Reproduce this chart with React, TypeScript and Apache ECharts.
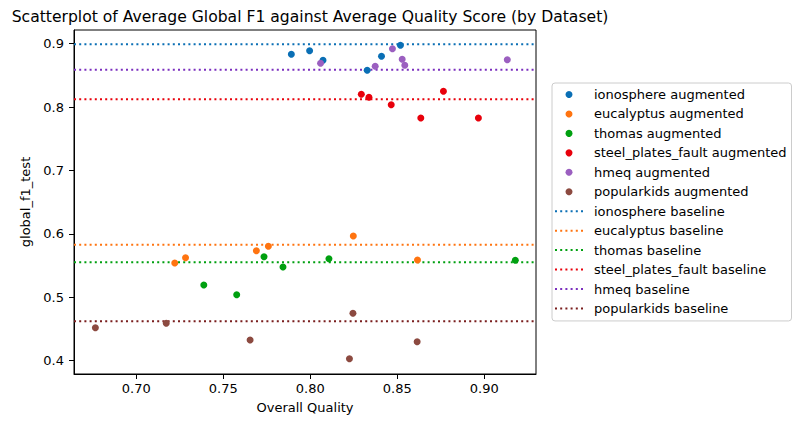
import React, { useEffect, useRef } from "react";
import * as echarts from "echarts";

const FONT = "DejaVu Sans";

const datasets = ["ionosphere", "eucalyptus", "thomas", "steel_plates_fault", "hmeq", "popularkids"];
const pointColors = ["#0a6fb5", "#ff7410", "#00a010", "#e8000b", "#9b5fc0", "#8c4a40"];
const lineColors = ["#0a6fb5", "#ff7410", "#00a010", "#e8000b", "#7b2fbe", "#7a1e1e"];

const ionosphereX = [0.7891, 0.7996, 0.8073, 0.8327, 0.8409, 0.8518];
const ionosphereY = [0.8833, 0.889, 0.8738, 0.858, 0.8801, 0.8975];
const eucalyptusX = [0.7221, 0.7283, 0.769, 0.7759, 0.8247, 0.8616];
const eucalyptusY = [0.5541, 0.5625, 0.5735, 0.5804, 0.5967, 0.5588];
const thomasX = [0.7388, 0.7577, 0.7734, 0.7843, 0.8107, 0.9178];
const thomasY = [0.5194, 0.5041, 0.564, 0.5478, 0.5609, 0.5584];
const steelX = [0.8293, 0.8337, 0.8465, 0.8635, 0.8765, 0.8966];
const steelY = [0.8202, 0.8155, 0.8038, 0.7828, 0.8249, 0.7828];
const hmeqX = [0.8059, 0.8373, 0.8472, 0.8528, 0.8543, 0.9132];
const hmeqY = [0.8691, 0.8644, 0.8921, 0.8754, 0.8659, 0.8748];
const popularX = [0.6765, 0.7172, 0.7654, 0.8245, 0.8614, 0.8225];
const popularY = [0.452, 0.459, 0.4327, 0.4748, 0.43, 0.4031];

const baselines = [0.899, 0.583, 0.5552, 0.8123, 0.859, 0.4621];

const xTicks = [0.7, 0.75, 0.8, 0.85, 0.9];
const yTicks = [0.4, 0.5, 0.6, 0.7, 0.8, 0.9];
const xMin = 0.6642;
const xMax = 0.9297;
const yMin = 0.379;
const yMax = 0.9216;

const pointXs = [ionosphereX, eucalyptusX, thomasX, steelX, hmeqX, popularX];
const pointYs = [ionosphereY, eucalyptusY, thomasY, steelY, hmeqY, popularY];

// dotted-line legend icon: six small squares in a row
const DOTTED_ICON =
  "path://M0,0h20v20h-20z M52,0h20v20h-20z M104,0h20v20h-20z M156,0h20v20h-20z M208,0h20v20h-20z M260,0h20v20h-20z";

export default function App() {
  const ref = useRef<HTMLDivElement>(null);
  useEffect(() => {
    if (!ref.current) return;
    const chart = echarts.init(ref.current, undefined, { renderer: "svg" });
    const scatterSeries = datasets.map((d, i) => ({
      name: d + " augmented",
      type: "scatter",
      symbol: "circle",
      symbolSize: 7,
      itemStyle: { color: pointColors[i], opacity: 1 },
      data: pointXs[i].map((x, j) => [x, pointYs[i][j]]),
      z: 3,
    }));
    const lineSeries = datasets.map((d, i) => ({
      name: d + " baseline",
      type: "line",
      symbol: "none",
      showSymbol: false,
      lineStyle: { color: lineColors[i], width: 2, type: [2, 3.2] },
      itemStyle: { color: lineColors[i] },
      data: [
        [xMin, baselines[i]],
        [xMax, baselines[i]],
      ],
      z: 2,
    }));
    chart.setOption({
      animation: false,
      backgroundColor: "#ffffff",
      textStyle: { fontFamily: FONT },
      title: {
        text: "Scatterplot of Average Global F1 against Average Quality Score (by Dataset)",
        left: 305,
        textAlign: "center",
        top: 4,
        textStyle: { fontFamily: FONT, fontSize: 15.6, fontWeight: "normal", color: "#000" },
      },
      grid: {
        left: 74,
        right: 264,
        top: 30,
        bottom: 50,
        show: true,
        borderColor: "#000",
        borderWidth: 1,
        backgroundColor: "transparent",
      },
      legend: {
        orient: "vertical",
        left: 552,
        top: 83,
        padding: [4, 5, 5, 3],
        itemWidth: 28,
        itemHeight: 7,
        itemGap: 4.45,
        borderColor: "#cccccc",
        borderWidth: 1,
        borderRadius: 3,
        backgroundColor: "#fff",
        textStyle: { fontFamily: FONT, fontSize: 13, color: "#000", lineHeight: 15, padding: [0, 0, 0, 6] },
        data: [
          ...datasets.map((d) => ({ name: d + " augmented", icon: "circle" })),
          ...datasets.map((d) => ({ name: d + " baseline", icon: DOTTED_ICON })),
        ],
      },
      xAxis: {
        type: "value",
        min: xMin,
        max: xMax,
        name: "Overall Quality",
        nameLocation: "middle",
        nameGap: 27,
        nameTextStyle: { fontFamily: FONT, fontSize: 13, color: "#000" },
        axisLine: { show: true, onZero: false, lineStyle: { color: "#000", width: 1 } },
        axisTick: { show: true, length: 5, customValues: xTicks, lineStyle: { color: "#000" } },
        axisLabel: {
          customValues: xTicks,
          margin: 8,
          fontFamily: FONT,
          fontSize: 13,
          color: "#000",
          formatter: (v: number) => v.toFixed(2),
        },
        splitLine: { show: false },
      },
      yAxis: {
        type: "value",
        min: yMin,
        max: yMax,
        name: "global_f1_test",
        nameLocation: "middle",
        nameGap: 32,
        nameRotate: 90,
        nameTextStyle: { fontFamily: FONT, fontSize: 13, color: "#000" },
        axisLine: { show: true, onZero: false, lineStyle: { color: "#000", width: 1 } },
        axisTick: { show: true, length: 5, customValues: yTicks, lineStyle: { color: "#000" } },
        axisLabel: {
          customValues: yTicks,
          margin: 10,
          fontFamily: FONT,
          fontSize: 13,
          color: "#000",
          formatter: (v: number) => v.toFixed(1),
        },
        splitLine: { show: false },
      },
      series: [...lineSeries, ...scatterSeries],
    });
    return () => chart.dispose();
  }, []);
  return (
    <div
      ref={ref}
      style={{ position: "fixed", left: 0, top: 0, width: 800, height: 424, background: "#fff" }}
    />
  );
}
